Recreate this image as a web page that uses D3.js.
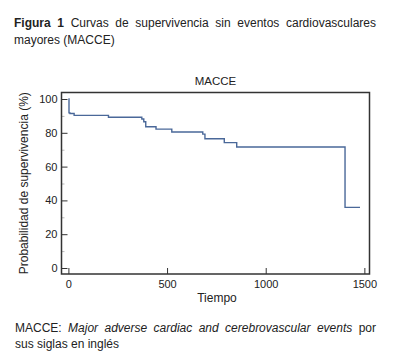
<!DOCTYPE html>
<html>
<head>
<meta charset="utf-8">
<script src="https://cdn.jsdelivr.net/npm/d3@7"></script>
<style>
  html, body { margin: 0; padding: 0; background: #fff; }
  svg { display: block; font-family: "Liberation Sans", Arial, sans-serif; }
</style>
</head>
<body>
<svg id="chart" width="397" height="363"></svg>
<script>
// Kaplan-Meier steps (tiempo, % supervivencia)
const stepTimes = [0, 3, 8, 29, 203, 372, 382, 392, 444, 524, 681, 692, 790, 853, 1402];
const stepSurv  = [100, 91.8, 91.4, 90.3, 89.2, 88.2, 86.5, 83.6, 82.2, 80.5, 79.2, 76.5, 74.2, 71.6, 35.9];
const lastTime = 1478;

const xTicks = [0, 500, 1000, 1500];
const yTicks = [0, 20, 40, 60, 80, 100];
const yMinor = [10, 30, 50, 70, 90];

const headerLines = [
  [{ t: "Figura 1", b: true }, { t: "Curvas de supervivencia sin eventos cardiovasculares" }],
  [{ t: "mayores (MACCE)" }]
];
const footerLines = [
  [{ t: "MACCE:" }, { t: "Major adverse cardiac and cerebrovascular events", i: true }, { t: "por" }],
  [{ t: "sus siglas en inglés" }]
];

const svg = d3.select("#chart");

// texto justificado: cada palabra se mide y se reparte el espacio
function textLine(segs, x0, y, width, justify) {
  const words = [];
  segs.forEach(s => s.t.split(" ").forEach(w => words.push({ w, b: s.b, i: s.i })));
  const g = svg.append("g");
  const nodes = words.map(d => g.append("text")
    .attr("y", y)
    .attr("font-size", "12px")
    .attr("fill", "#222")
    .attr("font-weight", d.b ? "bold" : "normal")
    .attr("font-style", d.i ? "italic" : "normal")
    .text(d.w));
  const widths = nodes.map(n => n.node().getComputedTextLength());
  const total = d3.sum(widths);
  const space = 3.3;
  const gap = justify && nodes.length > 1 ? (width - total) / (nodes.length - 1) : space;
  let x = x0;
  nodes.forEach((n, k) => { n.attr("x", x); x += widths[k] + gap; });
}

textLine(headerLines[0], 14, 27, 362, true);
textLine(headerLines[1], 14, 44, 362, false);
textLine(footerLines[0], 15, 332, 361, true);
textLine(footerLines[1], 15, 348, 361, false);

// zona del gráfico
const frame = { left: 61.5, right: 369.5, top: 92.5, bottom: 274 };

const x = d3.scaleLinear().domain([-35, 1526]).range([frame.left, frame.right]);
const y = d3.scaleLinear().domain([-3.55, 103.85]).range([frame.bottom, frame.top]);

// ticks menores (y)
svg.append("g")
  .attr("transform", `translate(${frame.left},0)`)
  .call(d3.axisLeft(y).tickValues(yMinor).tickSize(-3).tickFormat(""))
  .call(g => g.select(".domain").remove())
  .call(g => g.selectAll("line").attr("stroke", "#bbb"));

svg.append("g")
  .attr("transform", `translate(${frame.left},0)`)
  .call(d3.axisLeft(y).tickValues(yTicks).tickFormat(d3.format("d"))
    .tickSizeInner(-6).tickSizeOuter(0).tickPadding(4))
  .call(g => g.select(".domain").remove())
  .call(g => g.selectAll("line").attr("stroke", "#333"))
  .call(g => g.selectAll("text").attr("font-size", "11px").attr("fill", "#222")
    .attr("font-family", "Liberation Sans, Arial, sans-serif"));

svg.append("g")
  .attr("transform", `translate(0,${frame.bottom})`)
  .call(d3.axisBottom(x).tickValues(xTicks).tickFormat(d3.format("d"))
    .tickSizeInner(-6).tickSizeOuter(0).tickPadding(6))
  .call(g => g.select(".domain").remove())
  .call(g => g.selectAll("line").attr("stroke", "#333"))
  .call(g => g.selectAll("text").attr("font-size", "11px").attr("fill", "#222")
    .attr("font-family", "Liberation Sans, Arial, sans-serif"));

// marco
svg.append("rect")
  .attr("x", frame.left).attr("y", frame.top)
  .attr("width", frame.right - frame.left)
  .attr("height", frame.bottom - frame.top)
  .attr("fill", "none")
  .attr("stroke", "#333")
  .attr("stroke-width", 1.5);

// curva
const pts = stepTimes.map((t, k) => ({ t, s: stepSurv[k] }));
pts.push({ t: lastTime, s: stepSurv[stepSurv.length - 1] });

const line = d3.line()
  .x(d => x(d.t))
  .y(d => y(d.s))
  .curve(d3.curveStepAfter);

svg.append("path")
  .datum(pts)
  .attr("fill", "none")
  .attr("stroke", "#4a6899")
  .attr("stroke-width", 1.4)
  .attr("d", line);

// títulos
svg.append("text")
  .attr("x", (frame.left + frame.right) / 2)
  .attr("y", 85)
  .attr("text-anchor", "middle")
  .attr("font-size", "11.5px")
  .attr("fill", "#222")
  .text("MACCE");

svg.append("text")
  .attr("x", 217)
  .attr("y", 302)
  .attr("text-anchor", "middle")
  .attr("font-size", "12px")
  .attr("fill", "#222")
  .text("Tiempo");

svg.append("text")
  .attr("transform", `translate(27.5,${(frame.top + frame.bottom) / 2}) rotate(-90)`)
  .attr("text-anchor", "middle")
  .attr("font-size", "12px")
  .attr("fill", "#222")
  .text("Probabilidad de supervivencia (%)");
</script>
</body>
</html>
